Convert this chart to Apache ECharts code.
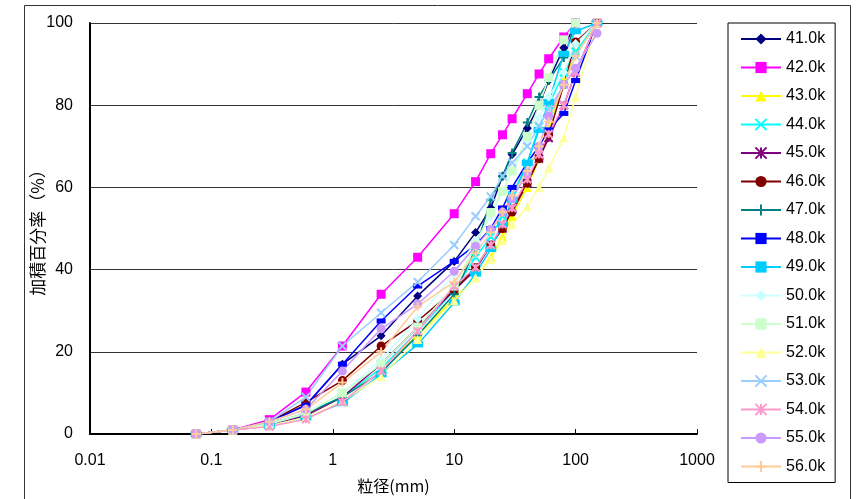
<!DOCTYPE html>
<html>
<head>
<meta charset="utf-8">
<script src="https://cdn.jsdelivr.net/npm/echarts@6/dist/echarts.min.js"></script>
<style>
  html, body { margin: 0; padding: 0; background: #fff; }
  #chart { width: 859px; height: 499px; }
</style>
</head>
<body>
<div id="chart"></div>
<script>
// 篩目（mm）
const sieves = [0.075, 0.15, 0.3, 0.6, 1.2, 2.5, 5, 10, 15, 20, 25, 30, 40, 50, 60, 80, 100, 150]

// 各地点の加積百分率（%）
const s41 = [0, 1, 3, 7, 17, 23.9, 33.6, 42, 49, 55, 62.7, 68, 74.4, 80, 86, 94, 100, null]
const s42 = [0, 1, 3.5, 10.2, 21.4, 34, 43, 53.6, 61.4, 68.2, 72.8, 76.7, 82.8, 87.6, 91.3, 96.6, 100, null]
const s43 = [0, 1, 2.5, 5, 9, 16, 24, 33, 38, 43, 48, 53, 60, 67, 74, 86, 93, 100]
const s44 = [0, 1, 2.5, 5, 9, 16, 25, 35, 43, 48, 53, 58, 66, 74.8, 80, 88, 93, 100]
const s45 = [0, 1, 2, 4.5, 9, 17, 26, 35, 40, 46, 50, 55, 61, 67, 72, 80, 88, 100]
const s46 = [0, 1, 3, 7.7, 13, 21.4, 27.5, 35, 40.5, 46, 50, 54, 61, 67, 72.8, 85, 95.4, 100]
const s47 = [0, 1, 2.5, 5, 9, 15, 24, 34, 45, 57, 62.7, 68.4, 75.8, 82, 86, 91.6, 100, null]
const s48 = [0, 1, 3, 7, 17, 27.5, 36, 42, 46, 50, 55, 60, 66, 70, 74, 78, 86, 100]
const s49 = [0, 1, 2, 4, 7.5, 14.5, 21.8, 32, 39, 45, 51, 57, 66, 74, 80.8, 92.5, 98, 100]
const s50 = [0, 1, 2.5, 5, 10, 18, 28, 39, 47, 53, 59, 64, 71, 77, 82, 88, 95, 100]
const s51 = [0, 1, 2.5, 5, 10, 17, 26, 36, 46, 53.9, 59, 64, 72.4, 80, 86.7, 95.9, 100, null]
const s52 = [0, 1, 2, 4, 8, 14, 23, 32.4, 38, 42.5, 47, 51, 55.3, 60, 64.7, 72, 82, 100]
const s53 = [0, 1, 3, 9, 21.4, 29.5, 37, 46, 53, 57.8, 62.7, 66, 70, 75, 79, 85, 92, 100]
const s54 = [0, 1, 1.8, 3.6, 7.8, 15.4, 25, 36, 40.5, 46, 51, 55, 62, 68, 73, 80, 88, 100]
const s55 = [0, 1, 3, 6, 15.3, 25.6, 31.6, 39.6, 45.7, 49.8, 54, 57.3, 63.6, 70, 77.3, 85, 89, 97.5]
const s56 = [0, 1, 3, 6, 12.5, 20, 31, 37, 44, 49, 54, 58, 64, 70, 76, 85, 92, 100]

const names = ['41.0k', '42.0k', '43.0k', '44.0k', '45.0k', '46.0k', '47.0k', '48.0k',
  '49.0k', '50.0k', '51.0k', '52.0k', '53.0k', '54.0k', '55.0k', '56.0k']
const values = [s41, s42, s43, s44, s45, s46, s47, s48, s49, s50, s51, s52, s53, s54, s55, s56]

const xTicks = [0.01, 0.1, 1, 10, 100, 1000]

// マーカー
const X_MARK = 'path://M0,0L10,10M10,0L0,10'
const STAR_MARK = 'path://M0,0L10,10M10,0L0,10M5,0L5,10'
const PLUS_MARK = 'path://M5,0L5,10M0,5L10,5'

const styles = [
  { color: '#000080', symbol: 'diamond', size: 9 },
  { color: '#FF00FF', symbol: 'rect', size: 9 },
  { color: '#FFFF00', symbol: 'triangle', size: 9 },
  { color: '#00FFFF', symbol: X_MARK, size: 8, stroke: true },
  { color: '#800080', symbol: STAR_MARK, size: 8, stroke: true },
  { color: '#800000', symbol: 'circle', size: 9 },
  { color: '#008080', symbol: PLUS_MARK, size: 9, stroke: true },
  { color: '#0000FF', symbol: 'rect', size: [9, 5] },
  { color: '#00CCFF', symbol: 'rect', size: [11, 6] },
  { color: '#CCFFFF', symbol: 'diamond', size: 9 },
  { color: '#CCFFCC', symbol: 'rect', size: 9 },
  { color: '#FFFF99', symbol: 'triangle', size: 9 },
  { color: '#99CCFF', symbol: X_MARK, size: 8, stroke: true },
  { color: '#FF99CC', symbol: STAR_MARK, size: 8, stroke: true },
  { color: '#CC99FF', symbol: 'circle', size: 9 },
  { color: '#FFCC99', symbol: PLUS_MARK, size: 9, stroke: true }
]

const toPoints = vals => {
  const pts = []
  vals.forEach((v, i) => {
    if (v !== null) pts.push([sieves[i], v])
  })
  return pts
}

const series = names.map((name, i) => {
  const st = styles[i]
  return {
    name: name,
    type: 'line',
    data: toPoints(values[i]),
    symbol: st.symbol,
    symbolSize: st.size,
    showAllSymbol: true,
    lineStyle: { color: st.color, width: 1.5 },
    itemStyle: {
      color: st.color,
      borderColor: st.color,
      borderWidth: st.stroke ? 2 : 0
    },
    emphasis: { disabled: true },
    animation: false
  }
})

const chart = echarts.init(document.getElementById('chart'))

const option = {
  backgroundColor: '#fff',
  animation: false,
  textStyle: { fontFamily: 'Liberation Sans, Arial, sans-serif' },
  grid: { left: 90, top: 23, right: 162, bottom: 64 },
  legend: {
    orient: 'vertical',
    left: 728,
    top: 23,
    height: 460,
    padding: [8, 10, 8, 12],
    itemWidth: 40,
    itemHeight: 14,
    itemGap: 12.5,
    borderColor: '#000',
    borderWidth: 1,
    textStyle: { fontSize: 16, color: '#000', fontFamily: 'Liberation Sans, Arial, sans-serif' },
    data: names
  },
  xAxis: {
    type: 'log',
    logBase: 10,
    min: 0.01,
    max: 1000,
    name: '粒径(mm)',
    nameLocation: 'middle',
    nameGap: 44,
    nameMoveOverlap: false,
    nameTextStyle: { fontSize: 16, color: '#000', fontFamily: 'Noto Sans CJK JP, sans-serif' },
    axisLine: { lineStyle: { color: '#000', width: 2 } },
    axisTick: { inside: true, length: 5, lineStyle: { color: '#000' } },
    minorTick: { show: false },
    splitLine: { show: false },
    axisLabel: {
      fontSize: 16,
      color: '#000',
      margin: 19,
      formatter: v => {
        const hit = xTicks.find(t => Math.abs(t - v) / t < 1e-6)
        return hit !== undefined ? String(hit) : ''
      }
    }
  },
  yAxis: {
    type: 'value',
    min: 0,
    max: 100,
    interval: 20,
    name: '加積百分率（%）',
    nameLocation: 'middle',
    nameGap: 44,
    nameMoveOverlap: false,
    nameTextStyle: { fontSize: 17, color: '#000', fontFamily: 'Noto Sans CJK JP, sans-serif' },
    axisLine: { show: true, lineStyle: { color: '#000', width: 2 } },
    axisTick: { show: false },
    splitLine: { lineStyle: { color: '#333', width: 1 } },
    axisLabel: { fontSize: 16, color: '#000', margin: 17 }
  },
  graphic: [
    {
      type: 'rect',
      shape: { x: 24.5, y: 5.5, width: 826, height: 520 },
      style: { fill: 'none', stroke: '#333', lineWidth: 1 },
      silent: true,
      z: -1
    }
  ],
  series: series
}

chart.setOption(option)
</script>
</body>
</html>
